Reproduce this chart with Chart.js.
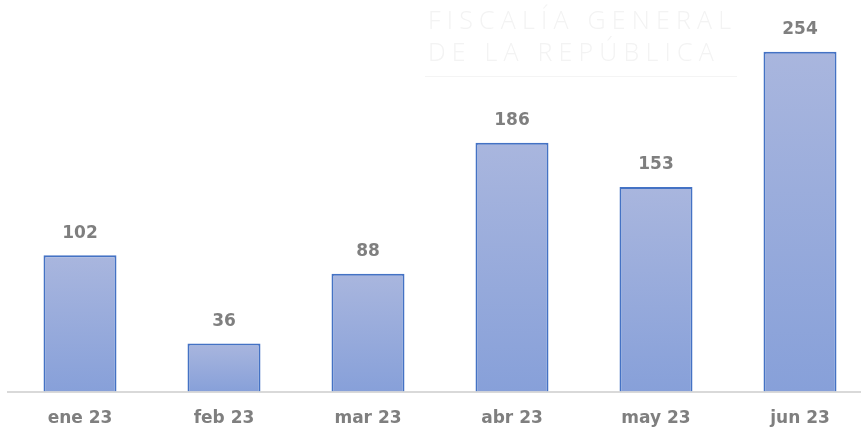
<!DOCTYPE html>
<html>
<head>
<meta charset="utf-8">
<script src="https://cdn.jsdelivr.net/npm/chart.js@4"></script>
<style>
  html, body { margin: 0; padding: 0; background: #fff; overflow: hidden; }
  #wrap { position: relative; width: 872px; height: 434px; overflow: hidden; }
  .wm { position: absolute; left: 428px; color: #f3f3f3; font-family: "Open Sans", sans-serif; font-weight: 300; font-size: 25px; letter-spacing: 6.2px; white-space: nowrap; }
  #wmline { position: absolute; left: 425px; top: 76px; width: 312px; height: 1px; background: #f4f4f4; }
</style>
</head>
<body>
<div id="wrap">
  <canvas id="chart" width="872" height="446"></canvas>
  <div class="wm" style="top:2px">FISCALÍA GENERAL</div>
  <div class="wm" style="top:34px">DE LA REPÚBLICA</div>
  <div id="wmline"></div>
</div>
<script>
// datos
const meses = ["ene 23", "feb 23", "mar 23", "abr 23", "may 23", "jun 23"];
const casos = [102, 36, 88, 186, 153, 254];

// etiquetas encima de cada barra
const etiquetas = {
  id: "etiquetas",
  afterDatasetsDraw(chart) {
    const ctx = chart.ctx;
    const meta = chart.getDatasetMeta(0);
    ctx.save();
    ctx.fillStyle = "#7f7f7f";
    ctx.font = "bold 17px 'DejaVu Sans', sans-serif";
    ctx.textAlign = "center";
    ctx.textBaseline = "middle";
    meta.data.forEach((bar, i) => {
      ctx.fillText(casos[i], bar.x, bar.y - 22);
    });
    ctx.restore();
  }
};

function relleno(context) {
  const chart = context.chart;
  const y = chart.scales.y;
  if (!y || context.raw === undefined) return "#98a9db";
  const top = y.getPixelForValue(context.raw);
  const bottom = y.getPixelForValue(0);
  if (!isFinite(top) || !isFinite(bottom)) return "#98a9db";
  const g = chart.ctx.createLinearGradient(0, top, 0, bottom);
  g.addColorStop(0, "#a9b6de");
  g.addColorStop(1, "#87a0d9");
  return g;
}

new Chart(document.getElementById("chart"), {
  type: "bar",
  data: {
    labels: meses,
    datasets: [{
      data: casos,
      backgroundColor: relleno,
      borderColor: "#4472c4",
      borderWidth: 2,
      borderSkipped: "bottom",
      categoryPercentage: 1,
      barPercentage: 0.507
    }]
  },
  plugins: [etiquetas],
  options: {
    responsive: false,
    animation: false,
    layout: { padding: { left: 8, right: 0, top: 17, bottom: 0 } },
    plugins: {
      legend: { display: false },
      tooltip: { enabled: false }
    },
    scales: {
      x: {
        grid: { display: false, drawTicks: false },
        border: { display: true, color: "#d9d9d9", width: 2 },
        ticks: {
          color: "#7f7f7f",
          font: { family: "'DejaVu Sans', sans-serif", size: 17, weight: "bold" },
          padding: 17
        }
      },
      y: {
        display: false,
        min: 0,
        max: 280
      }
    }
  }
});
</script>
</body>
</html>
